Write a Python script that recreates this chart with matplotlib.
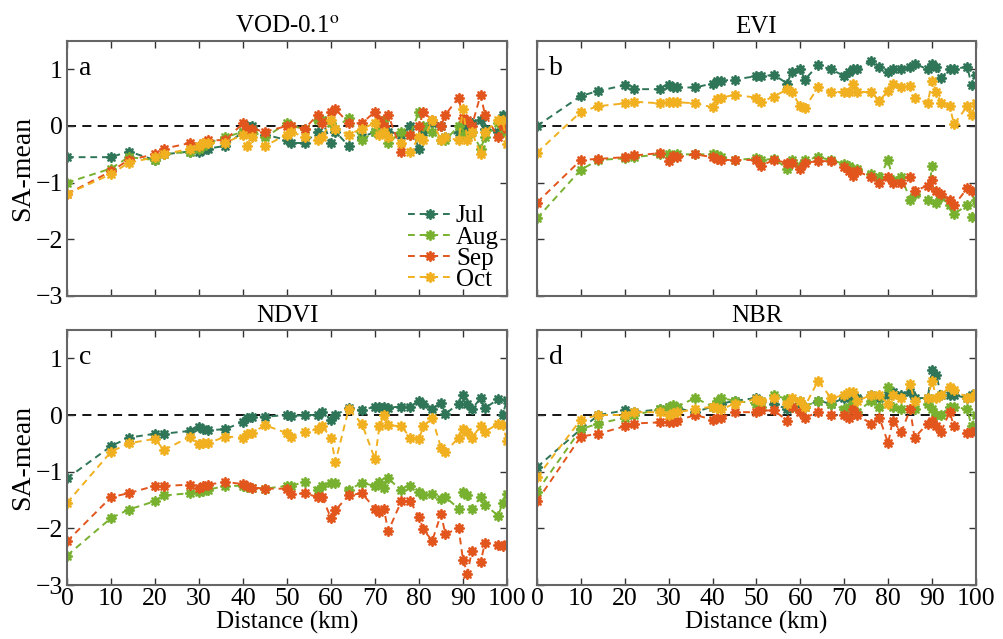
import matplotlib
matplotlib.use("Agg")
import matplotlib.pyplot as plt

plt.rcParams['font.family'] = ['Liberation Serif', 'DejaVu Serif']
plt.rcParams['mathtext.fontset'] = 'stix'

distance = [0, 10, 14, 20, 22, 28, 30, 31, 32, 36, 40, 41, 42, 45, 50, 51, 54, 57, 58, 60,
            61, 64, 67, 70, 71, 72, 73, 76, 78, 80, 81, 83, 85, 86, 89, 90, 91, 92, 94, 95,
            98, 99, 100]

months = ['Jul', 'Aug', 'Sep', 'Oct']
colors = ['#2f7557', '#78b12f', '#e2561d', '#f1b01f']
titles = ['VOD-0.1$^{\\mathrm{o}}$', 'EVI', 'NDVI', 'NBR']
letters = ['a', 'b', 'c', 'd']

vod_jul = [-0.55, -0.55, -0.45, -0.6, -0.5, -0.45, -0.45, -0.42, -0.4, -0.35,
           -0.1, 0.0, 0.0, -0.15, -0.25, -0.3, -0.3, -0.1, 0.1, -0.3,
           -0.1, -0.35, -0.2, -0.1, 0.05, 0.0, -0.1, -0.15, 0.0, -0.4,
           -0.1, 0.05, 0.0, -0.2, -0.1, 0.0, -0.05, 0.05, 0.1, -0.05,
           -0.1, 0.2, 0.15]
vod_aug = [-1.0, -0.75, -0.55, -0.6, -0.5, -0.45, -0.4, -0.35, -0.3, -0.2,
           -0.1, -0.05, -0.1, -0.2, 0.05, 0.0, -0.05, 0.1, 0.1, 0.05,
           -0.05, 0.15, -0.25, -0.1, 0.05, 0.1, -0.3, -0.1, -0.15, 0.25,
           0.0, -0.1, -0.25, -0.25, 0.0, -0.15, -0.2, -0.1, -0.4, -0.2,
           0.05, -0.1, -0.1]
vod_sep = [-1.2, -0.8, -0.6, -0.5, -0.4, -0.3, -0.35, -0.3, -0.25, -0.25,
           0.05, -0.05, -0.05, -0.1, 0.0, 0.0, -0.05, 0.2, 0.05, 0.25,
           0.3, 0.05, 0.05, 0.25, 0.1, 0.0, 0.2, -0.45, -0.15, 0.0,
           0.25, 0.1, 0.0, 0.2, 0.5, 0.15, 0.1, 0.0, 0.55, 0.2,
           -0.2, 0.0, -0.05]
vod_oct = [-1.2, -0.85, -0.65, -0.55, -0.5, -0.4, -0.35, -0.3, -0.3, -0.3,
           -0.15, -0.35, -0.2, -0.35, -0.15, -0.1, -0.2, -0.25, -0.2, 0.1,
           -0.05, -0.15, -0.05, 0.05, -0.15, -0.1, -0.2, -0.3, -0.45, -0.2,
           -0.25, 0.1, -0.25, -0.2, -0.25, 0.3, -0.25, -0.1, -0.5, -0.1,
           0.1, 0.1, -0.32]

evi_jul = [0.0, 0.53, 0.62, 0.72, 0.65, 0.65, 0.72, 0.68, 0.68, 0.68,
           0.75, 0.8, 0.8, 0.82, 0.88, 0.88, 0.9, 0.75, 0.95, 1.0,
           0.82, 1.07, 1.0, 0.88, 0.95, 1.0, 1.0, 1.15, 1.05, 0.95,
           1.0, 1.0, 1.05, 1.1, 1.0, 1.1, 1.05, 0.85, 1.0, 1.0,
           1.05, 0.72, 0.9]
evi_aug = [-1.63, -0.77, -0.6, -0.57, -0.55, -0.5, -0.5, -0.55, -0.5, -0.5,
           -0.5, -0.52, -0.55, -0.6, -0.57, -0.6, -0.58, -0.75, -0.6, -0.7,
           -0.6, -0.55, -0.6, -0.67, -0.7, -0.75, -0.75, -0.85, -0.9, -0.6,
           -0.95, -0.9, -1.3, -1.2, -1.3, -0.7, -1.35, -1.25, -1.4, -1.55,
           -1.4, -1.6, -1.3]
evi_sep = [-1.35, -0.6, -0.58, -0.55, -0.52, -0.48, -0.62, -0.53, -0.55, -0.5,
           -0.55, -0.58, -0.6, -0.6, -0.6, -0.7, -0.6, -0.65, -0.65, -0.75,
           -0.65, -0.62, -0.62, -0.72, -0.8, -0.88, -0.8, -0.9, -1.0, -0.9,
           -1.0, -1.0, -0.9, -1.15, -1.05, -0.95, -1.15, -1.2, -1.3, -1.4,
           -1.1, -1.15, -1.15]
evi_oct = [-0.47, 0.25, 0.35, 0.4, 0.43, 0.4, 0.42, 0.42, 0.42, 0.4,
           0.33, 0.48, 0.5, 0.55, 0.5, 0.42, 0.52, 0.65, 0.6, 0.35,
           0.32, 0.68, 0.6, 0.6, 0.6, 0.75, 0.6, 0.6, 0.45, 0.62,
           0.75, 0.68, 0.7, 0.5, 0.4, 0.8, 0.6, 0.4, 0.35, 0.03,
           0.35, 0.2, 0.4]

ndvi_jul = [-1.12, -0.55, -0.4, -0.33, -0.33, -0.28, -0.22, -0.25, -0.27, -0.25,
            -0.12, -0.05, -0.03, -0.03, 0.0, -0.02, 0.0, 0.0, 0.05, -0.08,
            0.0, 0.12, 0.08, 0.15, 0.15, 0.15, 0.13, 0.15, 0.15, 0.25,
            0.2, 0.1, 0.22, 0.02, 0.2, 0.35, 0.2, 0.1, 0.3, 0.12,
            0.28, 0.0, 0.27]
ndvi_aug = [-2.48, -1.82, -1.67, -1.52, -1.42, -1.38, -1.35, -1.34, -1.32, -1.25,
            -1.25, -1.27, -1.28, -1.3, -1.25, -1.25, -1.18, -1.32, -1.25, -1.2,
            -1.2, -1.32, -1.2, -1.25, -1.18, -1.28, -1.12, -1.33, -1.25, -1.35,
            -1.42, -1.4, -1.48, -1.45, -1.65, -1.35, -1.42, -1.65, -1.45, -1.58,
            -1.78, -1.55, -1.4]
ndvi_sep = [-2.23, -1.45, -1.38, -1.25, -1.25, -1.23, -1.28, -1.25, -1.23, -1.18,
            -1.22, -1.25, -1.28, -1.3, -1.3, -1.4, -1.38, -1.45, -1.45, -1.82,
            -1.68, -1.42, -1.38, -1.65, -1.72, -1.65, -2.05, -1.52, -1.52, -1.8,
            -2.02, -2.22, -1.75, -2.1, -2.0, -2.55, -2.8, -2.4, -2.6, -2.25,
            -2.3, -2.32, -2.28]
ndvi_oct = [-1.55, -0.65, -0.5, -0.42, -0.62, -0.38, -0.52, -0.5, -0.5, -0.38,
            -0.4, -0.33, -0.32, -0.18, -0.32, -0.38, -0.3, -0.25, -0.2, -0.4,
            -0.83, 0.1, -0.15, -0.78, -0.2, 0.0, -0.18, -0.2, -0.4, -0.42,
            -0.2, -0.05, -0.58, -0.65, -0.4, -0.25, -0.3, -0.4, -0.2, -0.3,
            -0.15, -0.18, -0.45]

nbr_jul = [-0.92, -0.25, 0.0, 0.08, 0.05, 0.1, 0.15, 0.13, 0.12, 0.05,
           0.15, 0.18, 0.2, 0.25, 0.3, 0.25, 0.2, 0.1, 0.15, 0.2,
           0.15, 0.25, 0.2, 0.3, 0.32, 0.35, 0.3, 0.35, 0.3, 0.35,
           0.4, 0.35, 0.4, 0.3, 0.3, 0.8, 0.7, 0.35, 0.35, 0.35,
           0.3, 0.35, 0.38]
nbr_aug = [-1.35, -0.25, -0.15, -0.05, 0.0, 0.1, 0.15, 0.17, 0.15, 0.3,
           0.15, 0.25, 0.3, 0.25, 0.2, 0.15, 0.35, 0.28, 0.15, 0.25,
           0.15, 0.25, 0.2, 0.1, 0.15, 0.2, 0.05, 0.25, 0.15, 0.5,
           0.15, 0.1, 0.1, 0.1, 0.2, 0.1, 0.0, 0.0, 0.15, 0.15,
           0.1, -0.2, 0.0]
nbr_sep = [-1.52, -0.38, -0.33, -0.2, -0.15, -0.13, -0.13, -0.12, -0.1, 0.0,
           -0.08, -0.06, -0.05, 0.05, 0.05, 0.08, 0.08, -0.1, 0.15, 0.05,
           -0.05, 0.05, 0.0, 0.0, -0.05, 0.1, 0.0, -0.15, -0.05, -0.5,
           -0.1, -0.3, 0.1, -0.4, -0.15, -0.1, -0.2, -0.3, 0.05, -0.2,
           -0.32, -0.3, -0.28]
nbr_oct = [-1.1, -0.08, 0.0, 0.0, 0.05, 0.05, 0.0, 0.03, 0.05, 0.1,
           0.15, 0.12, 0.1, 0.2, 0.28, 0.25, 0.3, 0.2, 0.3, 0.25,
           0.15, 0.6, 0.3, 0.35, 0.4, 0.4, 0.25, 0.35, 0.35, 0.2,
           0.35, 0.3, 0.55, 0.25, 0.3, 0.6, 0.3, 0.35, 0.5, 0.45,
           0.3, 0.32, 0.38]

panels = [
    [vod_jul, vod_aug, vod_sep, vod_oct],
    [evi_jul, evi_aug, evi_sep, evi_oct],
    [ndvi_jul, ndvi_aug, ndvi_sep, ndvi_oct],
    [nbr_jul, nbr_aug, nbr_sep, nbr_oct],
]

fig = plt.figure(figsize=(10.04, 6.39), dpi=100)
W, H = 1004, 639
boxes = [(67, 41, 507, 296), (537, 41, 976, 296),
         (67, 330, 507, 585), (537, 330, 976, 585)]
axes = []
for (l, t, r, b) in boxes:
    axes.append(fig.add_axes([l / W, 1 - b / H, (r - l) / W, (b - t) / H]))

for i, ax in enumerate(axes):
    for series, c, m in zip(panels[i], colors, months):
        ax.plot(distance, series, linestyle=(0, (3.5, 2.5)), color=c, lw=1.4,
                marker=(8, 1, 0), markersize=7.5, markeredgewidth=1.3,
                markeredgecolor=c, markerfacecolor=c, label=m)
    ax.axhline(0, color='black', lw=1.3, linestyle=(0, (5, 3.5)), zorder=1)
    ax.set_xlim(0, 100)
    ax.set_ylim(-3, 1.5)
    ax.set_xticks(range(0, 101, 10))
    ax.set_yticks([-3, -2, -1, 0, 1])
    ax.tick_params(direction='in', top=True, right=True, length=5, width=1,
                   labelsize=18.5, color='#333333', pad=3)
    ax.tick_params(axis='x', pad=2)
    for sp in ax.spines.values():
        sp.set_color('#666666')
        sp.set_linewidth(1.5)
    ax.set_title(titles[i], fontsize=18, pad=6)
    ax.text(0.027, 0.94, letters[i], transform=ax.transAxes, fontsize=20,
            va='top', ha='left')
    if i % 2 == 1:
        ax.set_yticklabels([])
    else:
        ax.set_ylabel('SA-mean', fontsize=20, labelpad=0)
    if i < 2:
        ax.set_xticklabels([])
    else:
        ax.set_xlabel('Distance (km)', fontsize=18, labelpad=1)

leg = axes[0].legend(loc='lower right', frameon=False, fontsize=18,
                     handlelength=1.75, handletextpad=0.15, labelspacing=-0.05,
                     borderaxespad=0.1, bbox_to_anchor=(1.01, -0.03))

fig.savefig('out.png', dpi=100)
